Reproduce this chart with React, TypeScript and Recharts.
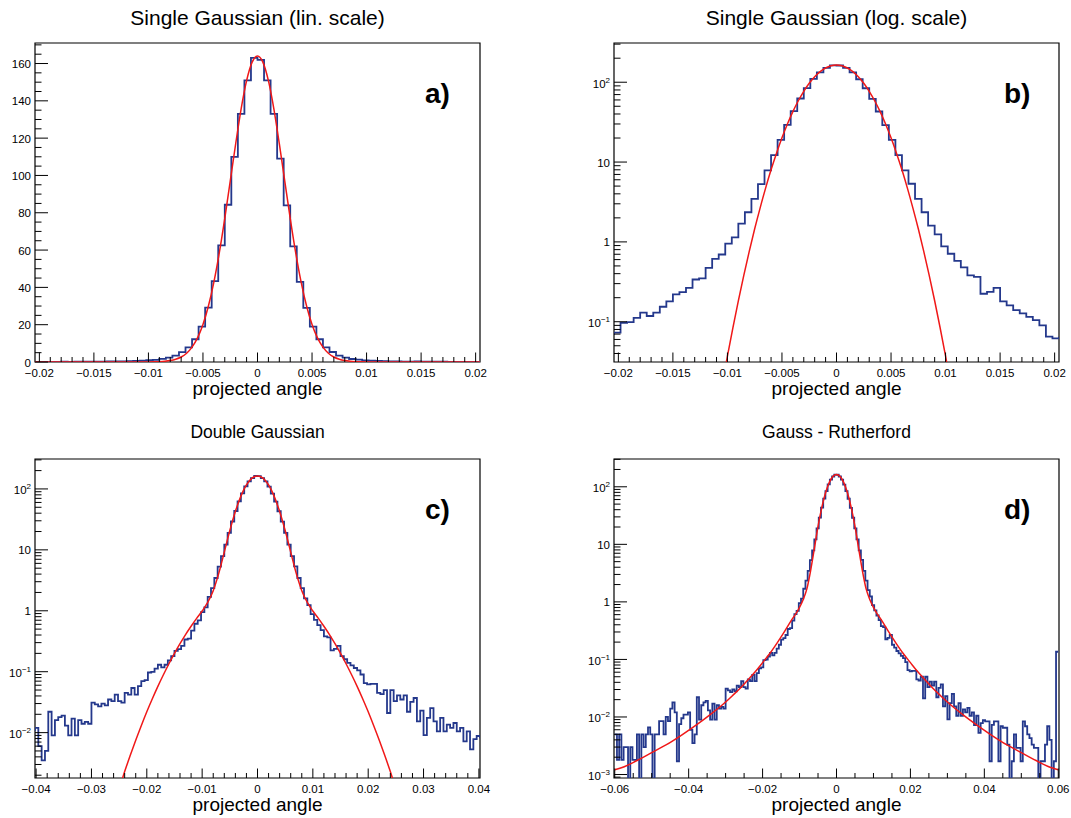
import React from "react";
import { LineChart, Line, XAxis, YAxis, ReferenceArea } from "recharts";

const FONT = "'Liberation Sans', Arial, Helvetica, sans-serif";
const HIST_BLUE = "#24388c";
const FIT_RED = "#f01818";

// one sample, 200 bins of 0.0006 between -0.06 and 0.06 (all four panels show it)
const binLow = -0.06;
const binWidth = 0.0006;

// -0.06 .. -0.0204
const tailLeft = [
  0.005, 0.0018, 0.005, 0.0018, 0.003, 0.003, 0.0001, 0.003, 0.0018, 0.0018,
  0.005, 0.0001, 0.005, 0.003, 0.005, 0.0066, 0.005, 0.0001, 0.005, 0.005,
  0.0085, 0.0085, 0.005, 0.01, 0.0085, 0.014, 0.018, 0.012, 0.0017, 0.0075,
  0.0095, 0.011, 0.011,
  0.012, 0.006, 0.0035, 0.005, 0.022, 0.009, 0.016, 0.018, 0.019, 0.013,
  0.009, 0.017, 0.009, 0.016, 0.014, 0.015, 0.014, 0.031, 0.029, 0.027,
  0.03, 0.028, 0.035, 0.033, 0.042, 0.033, 0.031, 0.045, 0.042, 0.054,
  0.042, 0.058, 0.07,
];

// -0.0204 .. 0.0204 (range of panels a and b)
const core = [
  0.073, 0.097, 0.099, 0.112, 0.13, 0.118, 0.13, 0.154, 0.18, 0.22,
  0.235, 0.266, 0.338, 0.35, 0.473, 0.613, 0.695, 0.953, 1.14, 1.69,
  2.35, 3.45, 5.3, 7.87, 12.2, 19, 29.2, 43.4, 62.5, 84.3,
  110, 133, 151, 163, 162, 151, 133, 109, 84, 62,
  43, 29, 19, 12.2, 7.87, 5.35, 3.45, 2.35, 1.6, 1.24,
  0.88, 0.71, 0.58, 0.48, 0.38, 0.365, 0.224, 0.237, 0.266, 0.18,
  0.16, 0.14, 0.127, 0.115, 0.105, 0.09, 0.065, 0.062,
];

// 0.0204 .. 0.06
const tailRight = [
  0.063, 0.063, 0.045, 0.043, 0.05, 0.021, 0.05, 0.033, 0.041, 0.035,
  0.041, 0.022, 0.032, 0.037, 0.0153, 0.023, 0.0091, 0.0174, 0.0253, 0.0153,
  0.0105, 0.0174, 0.0105, 0.0135, 0.012, 0.0144, 0.0105, 0.012, 0.0072, 0.0105,
  0.0053, 0.0078, 0.0088,
  0.0084, 0.0084, 0.0017, 0.0073, 0.0084, 0.0084, 0.0017, 0.0069, 0.0065, 0.0065,
  0.0033, 0.0001, 0.0017, 0.005, 0.0029, 0.0029, 0.0017, 0.0084, 0.0069, 0.005,
  0.0043, 0.0033, 0.0029, 0.0029, 0.0001, 0.0017, 0.0017, 0.0033, 0.0069, 0.004,
  0.0001, 0.0017, 0.136,
];

// fitted curves
const fitGausX = [
  -0.0205, -0.015, -0.012, -0.011, -0.0105, -0.01, -0.0095, -0.009, -0.0085, -0.008,
  -0.0075, -0.007, -0.0065, -0.006, -0.0055, -0.005, -0.0045, -0.004, -0.0035, -0.003,
  -0.0025, -0.002, -0.0015, -0.001, -0.0005, 0, 0.0005, 0.001, 0.0015, 0.002,
  0.0025, 0.003, 0.0035, 0.004, 0.0045, 0.005, 0.0055, 0.006, 0.0065, 0.007,
  0.0075, 0.008, 0.0085, 0.009, 0.0095, 0.01, 0.0105, 0.011, 0.012, 0.015, 0.0205,
];
const fitGausY = [
  0.00001, 0.00005, 0.0011, 0.0063, 0.0156, 0.037, 0.084, 0.183, 0.38, 0.76,
  1.46, 2.67, 4.72, 8.0, 12.9, 20.1, 30.0, 42.8, 58.6, 77,
  97, 117, 135.7, 150.8, 160.6, 164, 160.6, 150.8, 135.7, 117,
  97, 77, 58.6, 42.8, 30.0, 20.1, 12.9, 8.0, 4.72, 2.67,
  1.46, 0.76, 0.38, 0.183, 0.084, 0.037, 0.0156, 0.0063, 0.0011, 0.00005, 0.00001,
];

const fitDoubleX = [
  -0.026, -0.025, -0.024, -0.023, -0.022, -0.021, -0.02, -0.019, -0.018, -0.017,
  -0.016, -0.015, -0.014, -0.013, -0.012, -0.011, -0.01, -0.009, -0.008, -0.007,
  -0.006, -0.005, -0.004, -0.003, -0.002, -0.001, 0, 0.001, 0.002, 0.003,
  0.004, 0.005, 0.006, 0.007, 0.008, 0.009, 0.01, 0.011, 0.012, 0.013,
  0.014, 0.015, 0.016, 0.017, 0.018, 0.019, 0.02, 0.021, 0.022, 0.023,
  0.024, 0.025, 0.026,
];
const fitDoubleY = [
  0.0007, 0.0012, 0.0023, 0.0042, 0.0075, 0.013, 0.022, 0.036, 0.0575, 0.089,
  0.135, 0.2, 0.288, 0.407, 0.557, 0.75, 0.99, 1.37, 2.14, 4.11,
  9.19, 20.75, 42.7, 76.3, 116.3, 150.1, 163.4, 150.1, 116.3, 76.3,
  42.7, 20.75, 9.19, 4.11, 2.14, 1.37, 0.99, 0.75, 0.557, 0.407,
  0.288, 0.2, 0.135, 0.089, 0.0575, 0.036, 0.022, 0.013, 0.0075, 0.0042,
  0.0023, 0.0012, 0.0007,
];

const fitRuthX = [
  -0.06, -0.058, -0.054, -0.05, -0.046, -0.042, -0.038, -0.034, -0.03, -0.028,
  -0.026, -0.024, -0.022, -0.02, -0.018, -0.016, -0.014, -0.012, -0.011, -0.01,
  -0.009, -0.008, -0.007, -0.006, -0.005, -0.004, -0.003, -0.002, -0.001, 0,
  0.001, 0.002, 0.003, 0.004, 0.005, 0.006, 0.007, 0.008, 0.009, 0.01,
  0.011, 0.012, 0.014, 0.016, 0.018, 0.02, 0.022, 0.024, 0.026, 0.028,
  0.03, 0.034, 0.038, 0.042, 0.046, 0.05, 0.054, 0.058, 0.06,
];
const fitRuthY = [
  0.00121, 0.00132, 0.00175, 0.0024, 0.0033, 0.0048, 0.0072, 0.0112, 0.0182, 0.024,
  0.032, 0.044, 0.061, 0.088, 0.128, 0.196, 0.31, 0.5, 0.62, 0.8,
  1.1, 1.7, 3.5, 8.4, 20.5, 43, 77, 117, 151, 164,
  151, 117, 77, 43, 20.5, 8.4, 3.5, 1.7, 1.1, 0.8,
  0.62, 0.5, 0.31, 0.196, 0.128, 0.088, 0.061, 0.044, 0.032, 0.024,
  0.0182, 0.0112, 0.0072, 0.0048, 0.0033, 0.0024, 0.00175, 0.00132, 0.00121,
];

// axis labels
const ticksAB = [-0.02, -0.015, -0.01, -0.005, 0, 0.005, 0.01, 0.015, 0.02];
const ticksC = [-0.04, -0.03, -0.02, -0.01, 0, 0.01, 0.02, 0.03, 0.04];
const ticksD = [-0.06, -0.04, -0.02, 0, 0.02, 0.04, 0.06];
const countTicks = [0, 20, 40, 60, 80, 100, 120, 140, 160];
const decadesB = [0.1, 1, 10, 100];
const decadesC = [0.01, 0.1, 1, 10, 100];
const decadesD = [0.001, 0.01, 0.1, 1, 10, 100];

const counts = [...tailLeft, ...core, ...tailRight];
const histData = counts.map((c, i) => ({ x: binLow + i * binWidth, y: c }));
histData.push({ x: binLow + counts.length * binWidth, y: counts[counts.length - 1] });

const zip = (xs: number[], ys: number[]) => xs.map((x, i) => ({ x, y: ys[i] }));

function stepTicks(lo: number, hi: number, step: number) {
  const out: number[] = [];
  for (let k = Math.ceil(lo / step - 1e-6); k * step <= hi + 1e-9; k++) out.push(k * step);
  return out;
}

function logTicks(lo: number, hi: number) {
  const out: number[] = [];
  for (let e = Math.floor(Math.log10(lo)); e <= Math.ceil(Math.log10(hi)); e++) {
    for (let m = 1; m <= 9; m++) {
      const v = m * Math.pow(10, e);
      if (v >= lo && v <= hi) out.push(v);
    }
  }
  return out;
}

const isIn = (list: number[], v: number) =>
  list.some((m) => Math.abs(m - v) <= 1e-7 * Math.max(Math.abs(m), Math.abs(v), 1e-6));

const fmtX = (v: number) => {
  const s = String(parseFloat(v.toFixed(4)));
  return s === "-0" ? "0" : s.replace("-", "\u2212");
};

type PanelCfg = {
  left: number;
  top: number;
  title: string;
  titleSize: number;
  tag: string;
  xDomain: [number, number];
  xMajor: number[];
  xMinorStep: number;
  yDomain: [number, number];
  yLog: boolean;
  yMajor: number[];
  fit: { x: number; y: number }[];
};

const CW = 535;
const CH = 409;
// plot frame inside each panel: x 35..480, y 43..362
const PLOT_L = 35;
const PLOT_B = 362;
const AXIS_W = 30;
const AXIS_H = 30;
const MARGIN = { top: 43, left: PLOT_L - AXIS_W, right: 55, bottom: CH - PLOT_B - AXIS_H };

function Panel(cfg: PanelCfg) {
  const xTicks = stepTicks(cfg.xDomain[0], cfg.xDomain[1], cfg.xMinorStep);
  const yTicks = cfg.yLog
    ? logTicks(cfg.yDomain[0], cfg.yDomain[1])
    : stepTicks(cfg.yDomain[0], cfg.yDomain[1], 5);

  const renderXTick = (p: any) => {
    const v = p.payload.value;
    const major = isIn(cfg.xMajor, v);
    const x = p.x;
    const y = PLOT_B;
    return (
      <g>
        <line x1={x} x2={x} y1={y} y2={y - (major ? 9.5 : 5)} stroke="#000" />
        {major && (
          <text x={x} y={y + 15} textAnchor="middle" fontSize={11.5} fontFamily={FONT} fill="#000">
            {fmtX(v)}
          </text>
        )}
      </g>
    );
  };

  const yLabel = (x: number, y: number, v: number) => {
    if (!cfg.yLog) {
      return (
        <text x={x} y={y + 4.5} textAnchor="end" fontSize={11.5} fontFamily={FONT} fill="#000">
          {String(v)}
        </text>
      );
    }
    const e = Math.round(Math.log10(v));
    if (e === 0 || e === 1) {
      return (
        <text x={x} y={y + 4.5} textAnchor="end" fontSize={11.5} fontFamily={FONT} fill="#000">
          {e === 0 ? "1" : "10"}
        </text>
      );
    }
    return (
      <text x={x} y={y + 5.5} textAnchor="end" fontSize={11.5} fontFamily={FONT} fill="#000">
        10
        <tspan dy={-5} fontSize={8}>
          {e < 0 ? "\u2212" + -e : String(e)}
        </tspan>
      </text>
    );
  };

  const renderYTick = (p: any) => {
    const v = p.payload.value;
    const major = isIn(cfg.yMajor, v);
    const x = PLOT_L;
    const y = p.y;
    return (
      <g>
        <line x1={x} x2={x + (major ? 13 : 6.5)} y1={y} y2={y} stroke="#000" />
        {major && yLabel(x - 4, y, v)}
      </g>
    );
  };

  const plotCx = PLOT_L + (CW - PLOT_L - MARGIN.right) / 2;

  return (
    <div style={{ position: "absolute", left: cfg.left, top: cfg.top, width: CW, height: CH }}>
      <LineChart width={CW} height={CH} margin={MARGIN}>
        <XAxis
          type="number"
          dataKey="x"
          domain={cfg.xDomain}
          allowDataOverflow
          ticks={xTicks}
          interval={0}
          tick={renderXTick}
          tickLine={false}
          axisLine={false}
          height={AXIS_H}
        />
        <YAxis
          type="number"
          scale={cfg.yLog ? "log" : "linear"}
          domain={cfg.yDomain}
          allowDataOverflow
          ticks={yTicks}
          interval={0}
          tick={renderYTick}
          tickLine={false}
          axisLine={false}
          width={AXIS_W}
        />
        <Line
          data={histData}
          dataKey="y"
          type="stepAfter"
          stroke={HIST_BLUE}
          strokeWidth={1.8}
          dot={false}
          activeDot={false}
          isAnimationActive={false}
        />
        <Line
          data={cfg.fit}
          dataKey="y"
          type="monotone"
          stroke={FIT_RED}
          strokeWidth={1.5}
          dot={false}
          activeDot={false}
          isAnimationActive={false}
        />
        <ReferenceArea
          x1={cfg.xDomain[0]}
          x2={cfg.xDomain[1]}
          y1={cfg.yDomain[0]}
          y2={cfg.yDomain[1]}
          fill="none"
          fillOpacity={0}
          stroke="#000"
          strokeWidth={1.2}
          ifOverflow="visible"
        />
      </LineChart>
      <div
        style={{
          position: "absolute",
          left: plotCx,
          top: 17,
          transform: "translate(-50%, -50%)",
          fontSize: cfg.titleSize,
          lineHeight: 1,
          whiteSpace: "nowrap",
        }}
      >
        {cfg.title}
      </div>
      <div
        style={{
          position: "absolute",
          left: plotCx,
          top: 388,
          transform: "translate(-50%, -50%)",
          fontSize: 19,
          lineHeight: 1,
          whiteSpace: "nowrap",
        }}
      >
        projected angle
      </div>
      <div
        style={{
          position: "absolute",
          left: 425,
          top: 94,
          transform: "translate(0, -50%)",
          fontSize: 28,
          fontWeight: "bold",
          lineHeight: 1,
          whiteSpace: "nowrap",
        }}
      >
        {cfg.tag}
      </div>
    </div>
  );
}

export default function App() {
  return (
    <div
      style={{
        position: "absolute",
        left: 0,
        top: 0,
        width: 1071,
        height: 818,
        background: "#fff",
        fontFamily: FONT,
        color: "#000",
        overflow: "hidden",
      }}
    >
      <Panel
        left={0}
        top={0}
        title="Single Gaussian (lin. scale)"
        titleSize={21}
        tag="a)"
        xDomain={[-0.0204, 0.0204]}
        xMajor={ticksAB}
        xMinorStep={0.001}
        yDomain={[0, 171]}
        yLog={false}
        yMajor={countTicks}
        fit={zip(fitGausX, fitGausY)}
      />
      <Panel
        left={579}
        top={0}
        title="Single Gaussian (log. scale)"
        titleSize={21}
        tag="b)"
        xDomain={[-0.0204, 0.0204]}
        xMajor={ticksAB}
        xMinorStep={0.001}
        yDomain={[0.0313, 310]}
        yLog={true}
        yMajor={decadesB}
        fit={zip(fitGausX, fitGausY)}
      />
      <Panel
        left={0}
        top={416}
        title="Double Gaussian"
        titleSize={17.5}
        tag="c)"
        xDomain={[-0.0402, 0.0402]}
        xMajor={ticksC}
        xMinorStep={0.002}
        yDomain={[0.0018, 310]}
        yLog={true}
        yMajor={decadesC}
        fit={zip(fitDoubleX, fitDoubleY)}
      />
      <Panel
        left={579}
        top={416}
        title="Gauss - Rutherford"
        titleSize={17.5}
        tag="d)"
        xDomain={[-0.0602, 0.0602]}
        xMajor={ticksD}
        xMinorStep={0.005}
        yDomain={[0.00087, 304]}
        yLog={true}
        yMajor={decadesD}
        fit={zip(fitRuthX, fitRuthY)}
      />
    </div>
  );
}
